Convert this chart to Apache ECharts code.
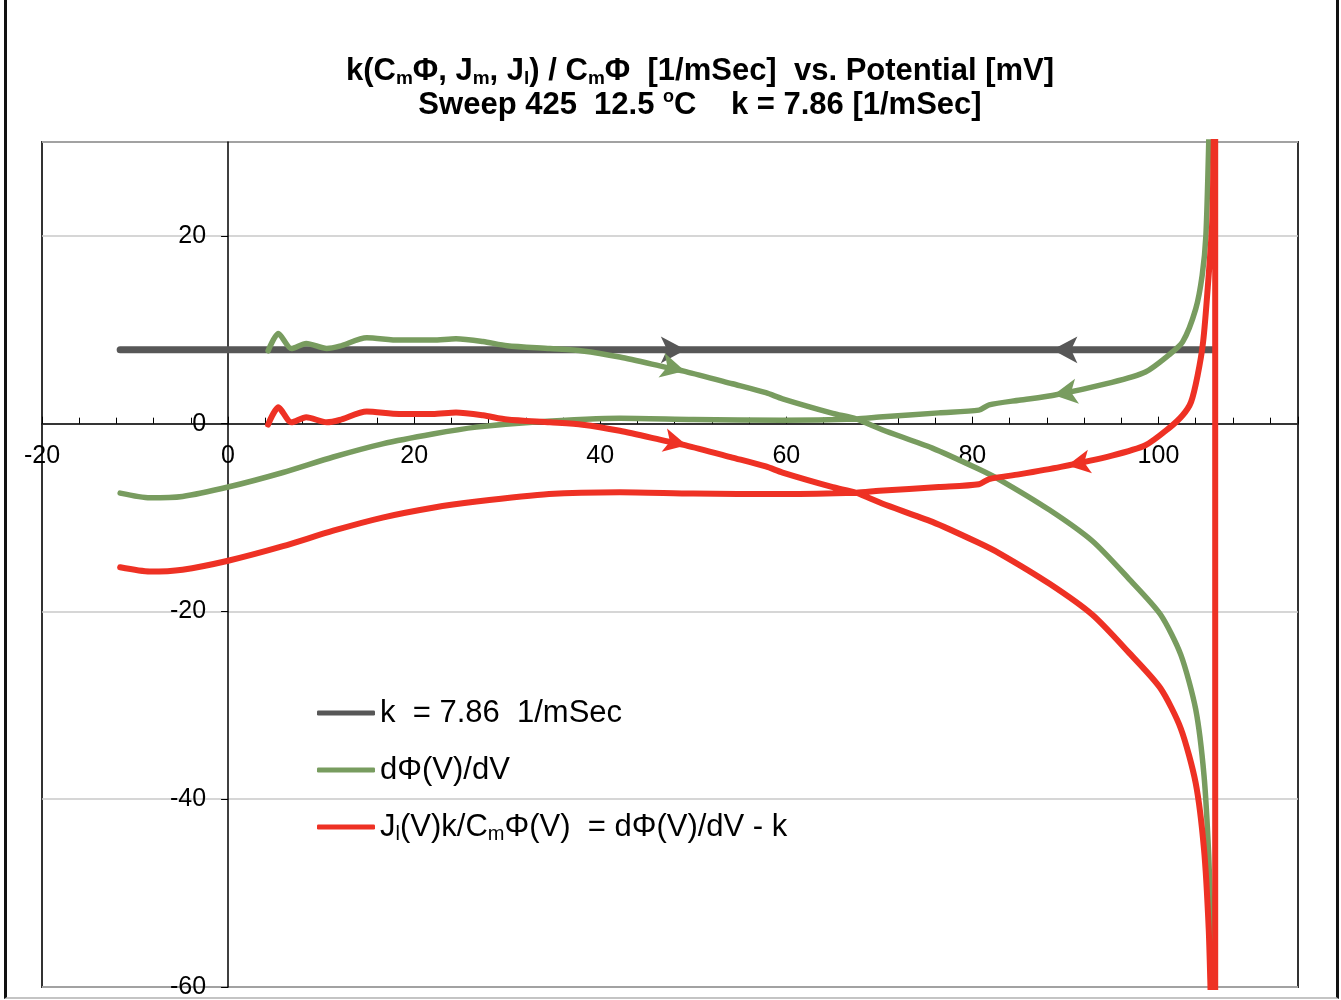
<!DOCTYPE html>
<html>
<head>
<meta charset="utf-8">
<script src="https://cdn.jsdelivr.net/npm/echarts@6/dist/echarts.min.js"></script>
<style>
    body { margin: 0; background: #fff; }
    #chartPotential { position: absolute; left: 0; top: 0; width: 1341px; height: 1000px; }
    #frame {
        position: absolute; left: 4px; top: -4px; width: 1335px; height: 1003px; box-sizing: border-box;
        border-left: 3px solid #111; border-right: 3px solid #111; border-bottom: 2px solid #c4c4c4;
        pointer-events: none;
    }
</style>
</head>
<body>
<div id="chartPotential"></div>
<div id="frame"></div>
<script>
    // k = 7.86 1/mSec (constant)
    const kV = [-11.6, 105.8];
    const kY = [7.86, 7.86];
    const kArrowV = [49.2, 88.6];
    const kArrowY = [7.86, 7.86];

    // dPhi(V)/dV, rising sweep
    const greenUpV = [4.3, 5.4, 6.8, 8.4, 10.6, 12.0, 14.9, 18.4, 22.0, 24.5, 27.4, 30.0, 34.6, 38.1, 42.1,
        47.1, 49.2, 54.2, 57.8, 59.6, 65.0, 67.5, 70.3, 75.7, 80.5, 82.9, 88.3, 92.9, 96.8, 100.2,
        102.4, 104.0, 104.9, 105.4, 105.7, 105.9];
    const greenUpY = [7.76, 9.6, 8.0, 8.55, 8.0, 8.25, 9.15, 8.9, 8.9, 9.05, 8.75, 8.3, 8.0, 7.75, 7.1,
        6.0, 5.55, 4.25, 3.3, 2.65, 1.1, 0.5, -0.65, -2.6, -4.75, -5.95, -9.2, -12.5, -16.5, -20.3,
        -24.6, -30.4, -37.5, -45.9, -55, -66];
    // dPhi(V)/dV, falling sweep
    const greenDownV = [105.6, 105.4, 105.1, 104.7, 104.0, 102.6, 101.1, 98.6, 95.0, 88.6, 85.0, 81.8, 80.7,
        76.4, 70.0, 67.5, 59.6, 50.0, 42.1, 32.7, 26.7, 22.0, 16.6, 11.3, 5.9, 0, -4.9, -8.4, -11.6];
    const greenDownY = [40, 29.7, 20.0, 15.8, 12.2, 8.7, 7.3, 5.5, 4.4, 3.0, 2.5, 2.0, 1.44,
        1.15, 0.7, 0.5, 0.37, 0.45, 0.58, 0.16, -0.37, -1.1, -2.15, -3.55, -5.2, -6.75, -7.75, -7.9, -7.4];
    const greenArrowV = [49.1, 88.7];
    const greenArrowY = [5.6, 3.05];

    // Jl(V)k/CmPhi(V) = dPhi(V)/dV - k
    const redUpV = [4.3, 5.4, 6.8, 8.4, 10.6, 12.0, 14.9, 18.4, 22.0, 24.5, 27.4, 30.0, 34.6, 38.1, 42.1,
        47.1, 49.2, 54.2, 57.8, 59.6, 65.0, 67.5, 70.3, 75.7, 80.5, 82.9, 88.3, 92.9, 96.8, 100.2,
        102.4, 104.0, 104.9, 105.4, 105.65, 106.1];
    const redUpY = [-0.1, 1.74, 0.14, 0.69, 0.14, 0.39, 1.29, 1.04, 1.04, 1.19, 0.89, 0.44, 0.14, -0.11, -0.76,
        -1.86, -2.31, -3.61, -4.56, -5.21, -6.76, -7.36, -8.51, -10.46, -12.61, -13.81, -17.06, -20.36, -24.36, -28.16,
        -32.46, -38.26, -45.36, -53.76, -62, -75];
    const redDownV = [106.1, 105.8, 105.3, 104.8, 104.2, 103.5, 102.6, 101.1, 98.6, 95.0, 89.5, 85.0, 81.8, 80.7,
        76.4, 70.0, 67.5, 59.6, 50.0, 42.1, 34.5, 26.7, 22.0, 16.6, 11.3, 5.9, 0, -4.9, -8.4, -11.6];
    const redDownY = [45, 22.0, 14.5, 8.7, 5.1, 2.3, 0.9, -0.5, -2.3, -3.4, -4.6, -5.4, -5.9, -6.45,
        -6.75, -7.15, -7.35, -7.5, -7.45, -7.3, -7.5, -8.3, -8.95, -10.0, -11.4, -13.05, -14.6, -15.55, -15.75, -15.3];
    const redArrowV = [49.3, 90.2];
    const redArrowY = [-2.3, -4.45];

    const legendNames = ['k  = 7.86  1/mSec', 'dΦ(V)/dV', 'Jl(V)k/CmΦ(V)  = dΦ(V)/dV - k'];
    const legendLabels = ['k  = 7.86  1/mSec', 'dΦ(V)/dV', 'J{sub|l}(V)k/C{sub|m}Φ(V)  = dΦ(V)/dV - k'];
    const titleLines = [
        'k(C{sub|m}Φ, J{sub|m}, J{sub|l}) / C{sub|m}Φ  [1/mSec]  vs. Potential [mV]',
        'Sweep 425  12.5 {sup|o}C    k = 7.86 [1/mSec]'
    ];

    const xMin = -20, xMax = 115, yMin = -60, yMax = 30;
    const gridBox = { left: 42, right: 43, top: 142, bottom: 13 };
    const plotW = 1341 - gridBox.left - gridBox.right;
    const plotH = 1000 - gridBox.top - gridBox.bottom;
    // axes cross at zero: shift them from the grid edges to the zero line
    const xAxisOffset = -plotH * (0 - yMin) / (yMax - yMin);
    const yAxisOffset = -plotW * (0 - xMin) / (xMax - xMin);

    const font = '"Liberation Sans", Arial, sans-serif';
    const zip = (xs, ys) => xs.map((x, i) => [x, ys[i]]);
    const arrows = (xs, ys, rot, size) => ({
        symbol: 'arrow',
        symbolSize: size,
        silent: true,
        animation: false,
        label: { show: false },
        data: xs.map((x, i) => ({ coord: [x, ys[i]], symbolRotate: rot[i] }))
    });

    const option = {
        animation: false,
        backgroundColor: '#fff',
        title: {
            text: titleLines.join('\n'),
            left: 700,
            textAlign: 'center',
            top: 54,
            padding: 0,
            textStyle: {
                fontFamily: font, fontSize: 31, fontWeight: 'bold', color: '#000', lineHeight: 34,
                rich: {
                    sub: { fontFamily: font, fontSize: 19, fontWeight: 'bold', color: '#000', lineHeight: 19, verticalAlign: 'bottom' },
                    sup: { fontFamily: font, fontSize: 18, fontWeight: 'bold', color: '#000', lineHeight: 18, verticalAlign: 'top' }
                }
            }
        },
        legend: {
            orient: 'vertical',
            left: 317,
            top: 696,
            padding: 0,
            itemGap: 23,
            itemWidth: 58,
            itemHeight: 5,
            icon: 'roundRect',
            data: legendNames,
            formatter: (name) => legendLabels[legendNames.indexOf(name)],
            textStyle: {
                fontFamily: font, fontSize: 31, color: '#000', lineHeight: 34,
                rich: {
                    sub: { fontFamily: font, fontSize: 20, color: '#000', lineHeight: 20, verticalAlign: 'bottom' }
                }
            }
        },
        grid: {
            left: gridBox.left,
            right: gridBox.right,
            top: gridBox.top,
            bottom: gridBox.bottom,
            show: true,
            borderColor: '#333',
            borderWidth: 2,
            outerBoundsMode: 'none'
        },
        xAxis: {
            type: 'value',
            min: xMin,
            max: xMax,
            interval: 20,
            offset: xAxisOffset,
            axisLine: { onZero: false, lineStyle: { color: '#000', width: 1.5 } },
            axisTick: { inside: true, length: 7, lineStyle: { color: '#000' } },
            minorTick: { show: true, splitNumber: 5, length: 6, lineStyle: { color: '#000' } },
            axisLabel: { fontFamily: font, fontSize: 25, color: '#000', margin: 20, showMaxLabel: false },
            splitLine: { show: false }
        },
        yAxis: {
            type: 'value',
            min: yMin,
            max: yMax,
            interval: 20,
            offset: yAxisOffset,
            axisLine: { onZero: false, lineStyle: { color: '#000', width: 1.5 } },
            axisTick: { inside: false, length: 7, lineStyle: { color: '#000' } },
            axisLabel: { fontFamily: font, fontSize: 25, color: '#000', margin: 22, showMaxLabel: false },
            splitLine: { show: true, lineStyle: { color: '#c8c8c8', width: 1.5 } }
        },
        series: [
            {
                name: legendNames[0],
                type: 'line',
                symbol: 'none',
                color: '#575757',
                lineStyle: { width: 7, cap: 'round' },
                z: 2,
                data: zip(kV, kY),
                markPoint: arrows(kArrowV, kArrowY, [-90, 90], [20, 25])
            },
            {
                name: legendNames[1],
                type: 'line',
                symbol: 'none',
                smooth: 0.25,
                color: '#789c5f',
                lineStyle: { width: 5.5, cap: 'round', join: 'round' },
                z: 3,
                data: zip(greenUpV, greenUpY).concat([[105.9, null]], zip(greenDownV, greenDownY)),
                markPoint: arrows(greenArrowV, greenArrowY, [-104, 99], [19, 24])
            },
            {
                name: legendNames[2],
                type: 'line',
                symbol: 'none',
                smooth: 0.25,
                color: '#ee3124',
                lineStyle: { width: 6, cap: 'round', join: 'round' },
                z: 4,
                data: zip(redUpV, redUpY).concat(zip(redDownV, redDownY)),
                markPoint: arrows(redArrowV, redArrowY, [-103, 100], [18, 23])
            }
        ]
    };

    const myChart = echarts.init(document.getElementById('chartPotential'));
    myChart.setOption(option);
</script>
</body>
</html>
